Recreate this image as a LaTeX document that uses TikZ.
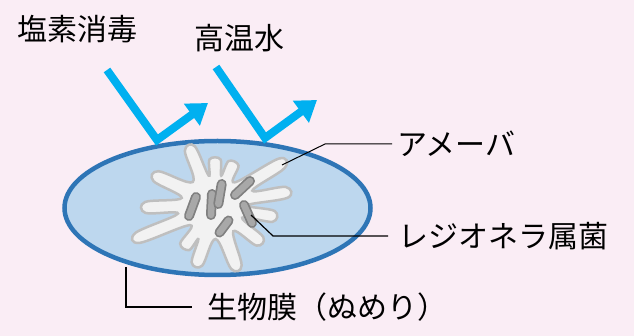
\documentclass[tikz,border=0pt]{standalone}
\usepackage{fontspec}
\newfontfamily\jpfont{Noto Sans CJK JP}
\usetikzlibrary{arrows.meta}
\definecolor{paper}{RGB}{250,237,245}
\definecolor{filmLine}{RGB}{46,117,182}
\definecolor{filmFill}{RGB}{189,215,238}
\definecolor{flowCyan}{RGB}{0,176,240}
\colorlet{amoebaFill}{white!95!black}
\colorlet{amoebaLine}{white!75!black}
\colorlet{rodFill}{white!66!black}
\colorlet{rodLine}{white!50!black}
\tikzstyle{flow}=[flowCyan, line width=8pt, line join=miter, -{Triangle[length=20pt, width=26pt]}]
\tikzstyle{leader}=[black, line width=1.2pt]
\tikzstyle{tag}=[font=\jpfont\fontsize{30}{33}\selectfont, inner sep=0pt]
\tikzstyle{rod}=[line width=10pt, line cap=round, draw=rodLine]

\begin{document}
\begin{tikzpicture}[x=1pt, y=-1pt]
	\fill[paper] (0,0) rectangle (634,336);
	\useasboundingbox (0,0) rectangle (634,336);

	% Biofilm
	\draw[filmLine, fill=filmFill, line width=4.5pt] (217.5,208) ellipse [x radius=153pt, y radius=67pt];

	% Amoeba with its pseudopods
	\begin{scope}[shift={(215,205)}]
		\draw[amoebaLine, fill=amoebaFill, line width=2.5pt] plot[smooth cycle, tension=0.6] coordinates {
			(0.5:32) (5.75:60) (16.25:60) (25:30) (33.6:58) (44.4:58) (55:32)
			(66.2:66) (75.8:66) (89:34) (101.9:62) (112.1:62) (116:38)
			(119.9:52) (132.1:52) (141:32) (153.25:84) (160.75:84) (167:38)
			(173.5:70) (182.5:70) (192:34) (201.2:66) (210.8:66) (226:32)
			(240.9:62) (251.1:62) (258:30) (263.2:46) (276.8:46) (282:30)
			(287.2:46) (300.8:46) (311:30) (324:79) (332:79) (339:40)
			(345.7:73) (354.3:73)};
	\end{scope}

	% Legionella rods
	\foreach \xa/\ya/\xb/\yb in {196/197/189/216, 212/194/211/215, 221.7/184/218.3/204,
		250/181/235/195, 228.5/220.5/219.5/232.5, 244/205/252/223}{
		\draw[rod] (\xa,\ya) -- (\xb,\yb);
		\draw[rod, line width=6.5pt, draw=rodFill] (\xa,\ya) -- (\xb,\yb);
	}

	% Chlorine and hot water bouncing off the film
	\coordinate (clIn) at (107,70);
	\coordinate (clHit) at (157,140);
	\coordinate (clOut) at (208,103);
	\coordinate (hwIn) at (216,67);
	\coordinate (hwHit) at (265,138);
	\coordinate (hwOut) at (317,100);
	\draw[flow] (clIn) -- (clHit) -- (clOut);
	\draw[flow] (hwIn) -- (hwHit) -- (hwOut);

	\node[tag] (chlorine) at (77,29) {塩素消毒};
	\node[tag] (hotwater) at (239,38) {高温水};
	\node[tag, anchor=west, inner xsep=5pt] (amoeba) at (392,144) {アメーバ};
	\node[tag, anchor=west, inner xsep=10pt] (legionella) at (388,236) {レジオネラ属菌};
	\node[tag, anchor=west, inner xsep=15pt] (biofilm) at (192,307) {生物膜（ぬめり）};

	% Leader lines
	\coordinate (amoebaPt) at (282,165);
	\coordinate (rodPt) at (251,215);
	\coordinate (filmPt) at (126,267);
	\draw[leader, line width=1pt] (amoebaPt) -- ++(43,-21) -- (amoeba.west);
	\draw[leader] (rodPt) -- ++(22,21) -- (legionella.west);
	\draw[leader] (filmPt) |- (biofilm.west);
\end{tikzpicture}
\end{document}
